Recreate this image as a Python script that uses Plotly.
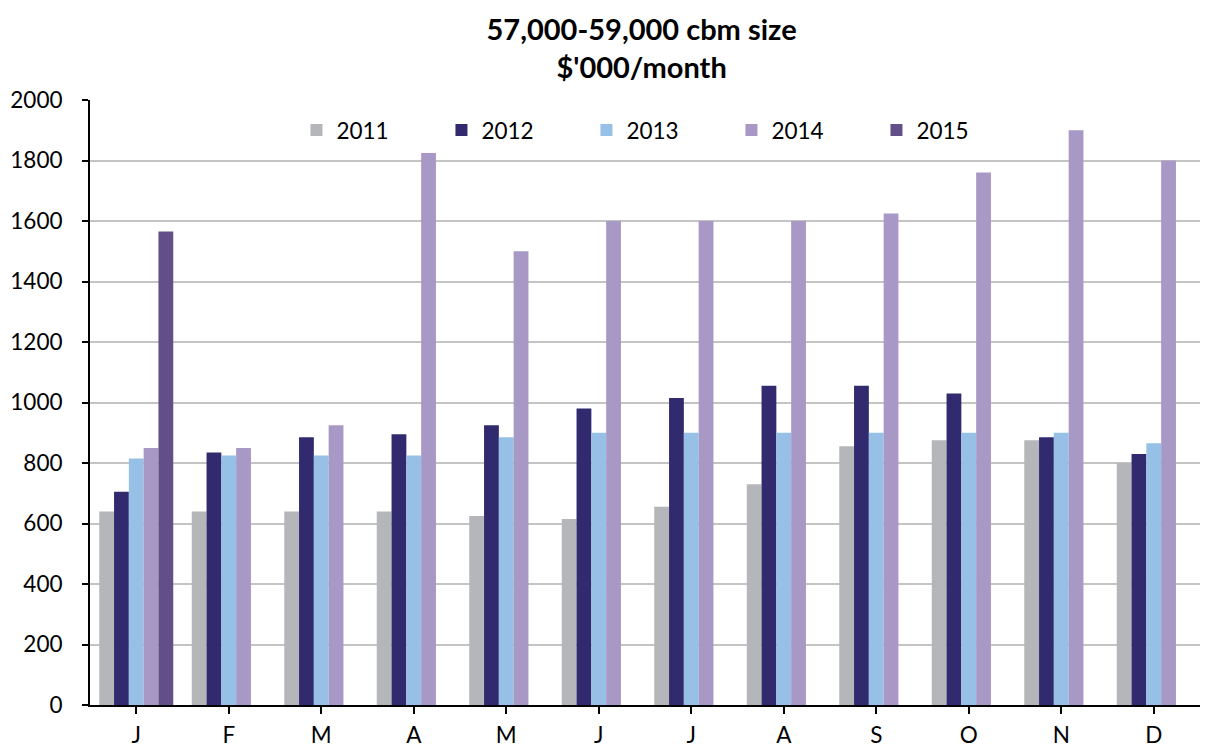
import plotly.graph_objects as go

months = ["J", "F", "M", "A", "M", "J", "J", "A", "S", "O", "N", "D"]
years = ["2011", "2012", "2013", "2014", "2015"]
v2011 = [640, 640, 640, 640, 625, 615, 655, 730, 855, 875, 875, 800]
v2012 = [705, 835, 885, 895, 925, 980, 1015, 1055, 1055, 1030, 885, 830]
v2013 = [815, 825, 825, 825, 885, 900, 900, 900, 900, 900, 900, 865]
v2014 = [850, 850, 925, 1825, 1500, 1600, 1600, 1600, 1625, 1760, 1900, 1800]
v2015 = [1565, None, None, None, None, None, None, None, None, None, None, None]
colors = ["#B5B6BA", "#312A6E", "#97C0E6", "#A898C6", "#634F87"]

x = list(range(12))
series = [v2011, v2012, v2013, v2014, v2015]

fig = go.Figure()
for name, vals, c in zip(years, series, colors):
    fig.add_trace(go.Bar(x=x, y=vals, name=name, marker=dict(color=c, line=dict(width=0))))

FONT = "Lato, Open Sans, sans-serif"
fig.update_layout(
    width=1200, height=743,
    paper_bgcolor="white", plot_bgcolor="white",
    barmode="group", bargap=0.2, bargroupgap=0,
    margin=dict(l=82, r=8, t=92, b=46, autoexpand=False),
    font=dict(family=FONT, size=22.5, color="black"),
    title=dict(text="<b>57,000-59,000 cbm size<br>$'000/month</b>", x=0.528, xanchor="center",
               y=0.957, yanchor="top", font=dict(size=29, family=FONT)),
    legend=dict(orientation="h", x=0.186, y=0.95, xanchor="left", yanchor="middle",
                font=dict(size=22.5), entrywidth=100, bgcolor="rgba(0,0,0,0)",
                itemwidth=30, traceorder="normal"),
    xaxis=dict(tickmode="array", tickvals=x, ticktext=months, range=[-0.5, 11.5],
               showline=True, linecolor="black", linewidth=2, ticks="outside",
               tickson="boundaries", ticklen=7, tickwidth=1.5, tickcolor="black",
               ticklabelstandoff=2, automargin=False, showgrid=False, zeroline=False),
    yaxis=dict(range=[0, 2000], dtick=200, showline=True, linecolor="black", linewidth=2,
               ticks="outside", ticklen=6, tickwidth=1.5, tickcolor="black",
               ticklabelstandoff=15, automargin=False,
               showgrid=True, gridcolor="#C4C4C4", gridwidth=1.5, zeroline=False),
)

fig.write_html("out.html")
